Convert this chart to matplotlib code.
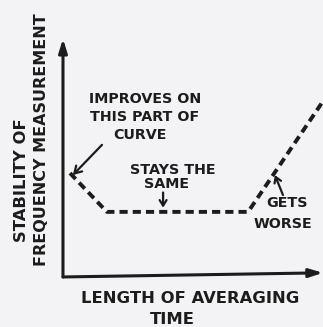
import matplotlib
matplotlib.use("Agg")
import matplotlib.pyplot as plt

# averaging time vs. stability, sketched curve (arbitrary units)
avg_time = [0.27, 1.69, 7.12, 10.4]
stability = [3.75, 2.35, 2.35, 6.9]

ink = "#1c1c1c"
paper = "#f3f3f5"

fig = plt.figure(figsize=(3.23, 3.27), dpi=100, facecolor=paper)
ax = fig.add_axes([0.195, 0.153, 0.805, 0.847])
ax.set_xlim(0, 10)
ax.set_ylim(0, 10)
ax.set_facecolor(paper)
ax.axis("off")

font = dict(family="DejaVu Sans", weight="bold", color=ink)
note = 10.3
title = 11.8

# axes drawn as arrows
ax.annotate("", xy=(0, 8.6), xytext=(0, 0),
            arrowprops=dict(arrowstyle="-|>,head_length=0.8,head_width=0.25",
                            lw=2.2, color=ink, shrinkA=0, shrinkB=0),
            annotation_clip=False)
ax.annotate("", xy=(10, 0.15), xytext=(0, 0),
            arrowprops=dict(arrowstyle="-|>,head_length=0.8,head_width=0.25",
                            lw=2.2, color=ink, shrinkA=0, shrinkB=0),
            annotation_clip=False)

# the dashed curve
ax.plot(avg_time, stability, color=ink, lw=2.8, dashes=(2.1, 1.3),
        solid_capstyle="butt", dash_capstyle="butt")

# notes
ax.text(3.15, 6.43, "IMPROVES ON", ha="center", va="center", fontsize=note, **font)
ax.text(3.15, 5.78, "THIS PART OF", ha="center", va="center", fontsize=note, **font)
ax.text(2.95, 5.13, "CURVE", ha="center", va="center", fontsize=note, **font)
ax.annotate("", xy=(0.38, 3.68), xytext=(1.5, 4.77),
            arrowprops=dict(arrowstyle="->,head_length=0.5,head_width=0.3",
                            lw=1.6, color=ink, shrinkA=0, shrinkB=0))

ax.text(4.23, 3.88, "STAYS THE", ha="center", va="center", fontsize=note, **font)
ax.text(4.0, 3.36, "SAME", ha="center", va="center", fontsize=note, **font)
ax.annotate("", xy=(3.85, 2.5), xytext=(3.85, 3.05),
            arrowprops=dict(arrowstyle="->,head_length=0.4,head_width=0.25",
                            lw=1.6, color=ink, shrinkA=0, shrinkB=0))

ax.text(8.6, 2.67, "GETS", ha="center", va="center", fontsize=note, **font)
ax.text(8.46, 1.91, "WORSE", ha="center", va="center", fontsize=note, **font)
ax.annotate("", xy=(8.15, 3.68), xytext=(8.46, 2.96),
            arrowprops=dict(arrowstyle="->,head_length=0.4,head_width=0.25",
                            lw=1.6, color=ink, shrinkA=0, shrinkB=0))

# axis titles
ax.text(-1.58, 3.5, "STABILITY OF", rotation=90, ha="center", va="center",
        fontsize=title, clip_on=False, **font)
ax.text(-0.81, 4.95, "FREQUENCY MEASUREMENT", rotation=90, ha="center", va="center",
        fontsize=11.5, clip_on=False, **font)
ax.text(4.9, -0.76, "LENGTH OF AVERAGING", ha="center", va="center",
        fontsize=title, clip_on=False, **font)
ax.text(4.19, -1.52, "TIME", ha="center", va="center",
        fontsize=title, clip_on=False, **font)

fig.savefig("out.png", dpi=100, facecolor=paper)
